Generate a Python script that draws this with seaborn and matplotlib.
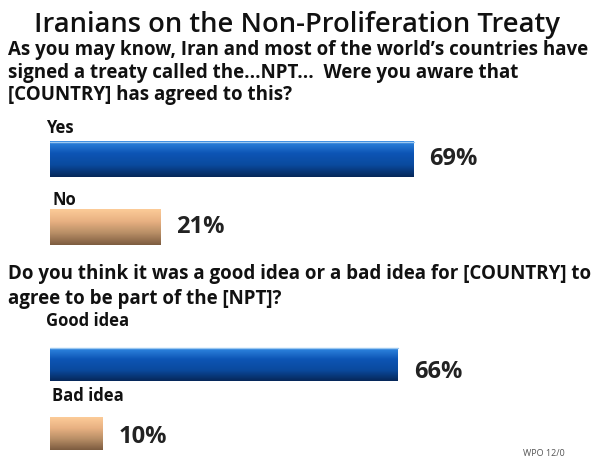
import numpy as np
import pandas as pd
import matplotlib
matplotlib.use("Agg")
import matplotlib.pyplot as plt
import seaborn as sns
from matplotlib.colors import to_rgb

# ---- data ----
title = "Iranians on the Non-Proliferation Treaty"
q1_text = ("As you may know, Iran and most of the world\u2019s countries have\n"
           "signed a treaty called the...NPT...  Were you aware that\n"
           "[COUNTRY] has agreed to this?")
q1_labels = ["Yes", "No"]
q1_values = [69, 21]
q2_text = ("Do you think it was a good idea or a bad idea for [COUNTRY] to\n"
           "agree to be part of the [NPT]?")
q2_labels = ["Good idea", "Bad idea"]
q2_values = [66, 10]
footer = "WPO 12/0"

sns.set_theme(style="white")
plt.rcParams['font.family'] = ['Open Sans', 'DejaVu Sans']

W, H = 594, 462
fig = plt.figure(figsize=(W / 100, H / 100), dpi=100)

def px_axes(x0, y0, x1, y1):
    return fig.add_axes([x0 / W, 1 - y1 / H, (x1 - x0) / W, (y1 - y0) / H])

blue_grad = [to_rgb("#2f86e0"), to_rgb("#0d55b5"), to_rgb("#0a4a9e"), to_rgb("#06285a")]
tan_grad = [to_rgb("#fccb98"), to_rgb("#e8b182"), to_rgb("#b88e66"), to_rgb("#7d5c40")]

def grad_img(stops, n=64):
    stops = np.array(stops)
    t = np.linspace(0, 1, n)
    pos = np.linspace(0, 1, len(stops))
    rgb = np.stack([np.interp(t, pos, stops[:, c]) for c in range(3)], axis=1)
    return rgb[:, None, :]

def draw_panel(ax, labels, values, width, label_dx, label_dy, val_dy):
    df = pd.DataFrame({"label": labels, "value": values})
    sns.barplot(data=df, x="value", y="label", hue="label",
                palette=["#0d55b5", "#e8b182"], width=width, ax=ax,
                legend=False, saturation=1)
    grads = [blue_grad, tan_grad]
    for i, p in enumerate(ax.patches):
        x0, y0 = p.get_x(), p.get_y()
        w, h = p.get_width(), p.get_height()
        p.set_facecolor("none")
        p.set_edgecolor("none")
        ax.imshow(grad_img(grads[i]), extent=(x0, x0 + w, y0 + h, y0),
                  aspect="auto", origin="upper", zorder=2)
        if i == 0:
            ax.plot([x0, x0 + w], [y0, y0], color="#9cc8f0", lw=1, zorder=3)
    ax.set_xlim(0, (W - 50) / 5.27)
    ax.set_ylim(1.5, -0.5)
    for i, (lab, v) in enumerate(zip(labels, values)):
        ax.text(label_dx[i], i - width / 2 - label_dy[i], lab, ha="left", va="center",
                fontsize=12, fontweight="bold", color="#111111")
        ax.text(v + 3.0, i + val_dy[i], f"{v}%", ha="left", va="center",
                fontsize=17, fontweight="bold", color="#222222")
    ax.axis("off")

ax1 = px_axes(50, 125.5, W, 261.5)
draw_panel(ax1, q1_labels, q1_values, 0.515, [-0.8, 0.4], [0.21, 0.15], [0.0, 0.0])

ax2 = px_axes(50, 330.5, W, 467.5)
draw_panel(ax2, q2_labels, q2_values, 0.48, [-0.8, 0.4], [0.40, 0.30], [0.11, 0.06])

fig.text(0.5, 1 - 25 / H, title, ha="center", va="center", fontsize=19.7,
         fontweight="semibold", color="#111111")
fig.text(8 / W, 1 - 40 / H, q1_text, ha="left", va="top", fontsize=13.5,
         fontweight="bold", color="#111111", linespacing=1.18)
fig.text(8 / W, 1 - 264 / H, q2_text, ha="left", va="top", fontsize=13.5,
         fontweight="bold", color="#111111", linespacing=1.32)
fig.text(523 / W, 1 - 453 / H, footer, ha="left", va="center", fontsize=6.5,
         color="#555555")

fig.savefig("out.png", dpi=100)
